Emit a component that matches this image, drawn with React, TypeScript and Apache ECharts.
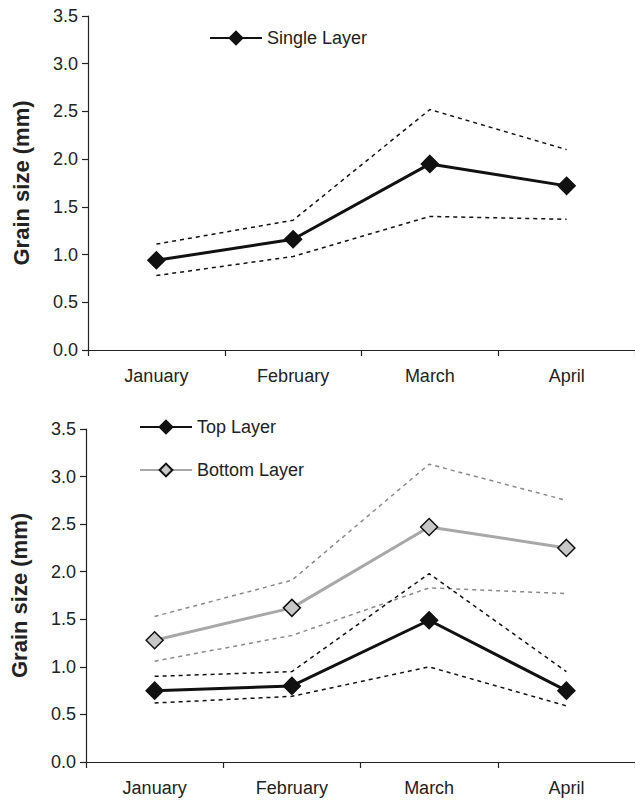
import React, { useEffect, useRef } from "react";
import * as echarts from "echarts";

const months = ["January", "February", "March", "April"];
const yTicks = [0, 0.5, 1.0, 1.5, 2.0, 2.5, 3.0, 3.5];

// Top panel
const singleLayer = [0.94, 1.16, 1.95, 1.72];
const singleUpper = [1.11, 1.36, 2.52, 2.1];
const singleLower = [0.78, 0.98, 1.4, 1.37];

// Bottom panel
const topLayer = [0.75, 0.8, 1.49, 0.75];
const topUpper = [0.9, 0.95, 1.98, 0.95];
const topLower = [0.62, 0.69, 1.0, 0.59];
const bottomLayer = [1.28, 1.62, 2.47, 2.25];
const bottomUpper = [1.53, 1.91, 3.13, 2.75];
const bottomLower = [1.06, 1.33, 1.83, 1.77];

const FONT = "Liberation Sans, Arial, sans-serif";
const AXIS_COLOR = "#222";
const TEXT_COLOR = "#222";

export default function App() {
  const ref = useRef<HTMLDivElement>(null);
  useEffect(() => {
    if (!ref.current) return;
    const chart = echarts.init(ref.current, undefined, { renderer: "svg" });
    const xAxisBase = (gridIndex: number) => ({
      type: "category" as const,
      gridIndex,
      data: months,
      boundaryGap: true,
      axisLine: { lineStyle: { color: AXIS_COLOR, width: 1.2 } },
      axisTick: { show: true, length: 6, lineStyle: { color: AXIS_COLOR, width: 1.2 } },
      axisLabel: { color: TEXT_COLOR, fontSize: 18, fontFamily: FONT, margin: 17 },
      splitLine: { show: false },
    });
    const yAxisBase = (gridIndex: number) => ({
      type: "value" as const,
      gridIndex,
      min: yTicks[0],
      max: yTicks[yTicks.length - 1],
      interval: 0.5,
      name: "Grain size (mm)",
      nameLocation: "middle" as const,
      nameGap: 56,
      nameRotate: 90,
      nameTextStyle: { color: TEXT_COLOR, fontSize: 22, fontWeight: "bold" as const, fontFamily: FONT },
      axisLine: { show: true, lineStyle: { color: AXIS_COLOR, width: 1.2 } },
      axisTick: { show: true, length: 6, lineStyle: { color: AXIS_COLOR, width: 1.2 } },
      axisLabel: {
        color: TEXT_COLOR,
        fontSize: 18,
        fontFamily: FONT,
        margin: 10,
        formatter: (v: number) => v.toFixed(1),
      },
      splitLine: { show: false },
    });
    const dashed = (name: string, data: number[], color: string, idx: number) => ({
      name,
      type: "line" as const,
      xAxisIndex: idx,
      yAxisIndex: idx,
      data,
      symbol: "none",
      lineStyle: { color, width: 1.5, type: [4, 4] as any },
      z: 1,
    });
    const main = (
      name: string,
      data: number[],
      lineColor: string,
      fill: string,
      idx: number
    ) => ({
      name,
      type: "line" as const,
      xAxisIndex: idx,
      yAxisIndex: idx,
      data,
      symbol: "diamond",
      symbolSize: 17,
      lineStyle: { color: lineColor, width: 3 },
      itemStyle: { color: fill, borderColor: "#111", borderWidth: 1.5 },
      z: 3,
    });

    chart.setOption({
      animation: false,
      backgroundColor: "#fff",
      grid: [
        { left: 88, top: 16, width: 547, height: 334 },
        { left: 86, top: 429, width: 549, height: 333 },
      ],
      xAxis: [xAxisBase(0), xAxisBase(1)],
      yAxis: [yAxisBase(0), yAxisBase(1)],
      legend: [
        {
          data: ["Single Layer"],
          left: 204,
          top: 24,
          itemWidth: 52,
          itemHeight: 16,
          itemGap: 6,
          textStyle: { color: TEXT_COLOR, fontSize: 18, fontFamily: FONT },
          selectedMode: false,
        },
        {
          data: ["Top Layer", "Bottom Layer"],
          left: 134,
          top: 413,
          orient: "vertical",
          itemGap: 25,
          itemWidth: 52,
          itemHeight: 16,
          textStyle: { color: TEXT_COLOR, fontSize: 18, fontFamily: FONT },
          selectedMode: false,
        },
      ],
      series: [
        dashed("su", singleUpper, "#111", 0),
        dashed("sl", singleLower, "#111", 0),
        main("Single Layer", singleLayer, "#111", "#111", 0),
        dashed("bu", bottomUpper, "#8a8a8a", 1),
        dashed("bl", bottomLower, "#8a8a8a", 1),
        dashed("tu", topUpper, "#111", 1),
        dashed("tl", topLower, "#111", 1),
        main("Bottom Layer", bottomLayer, "#a8a8a8", "#c8c8c8", 1),
        main("Top Layer", topLayer, "#111", "#111", 1),
      ],
    });
    return () => chart.dispose();
  }, []);
  return (
    <div
      ref={ref}
      style={{ position: "fixed", left: 0, top: 0, width: 635, height: 801, background: "#fff" }}
    />
  );
}
